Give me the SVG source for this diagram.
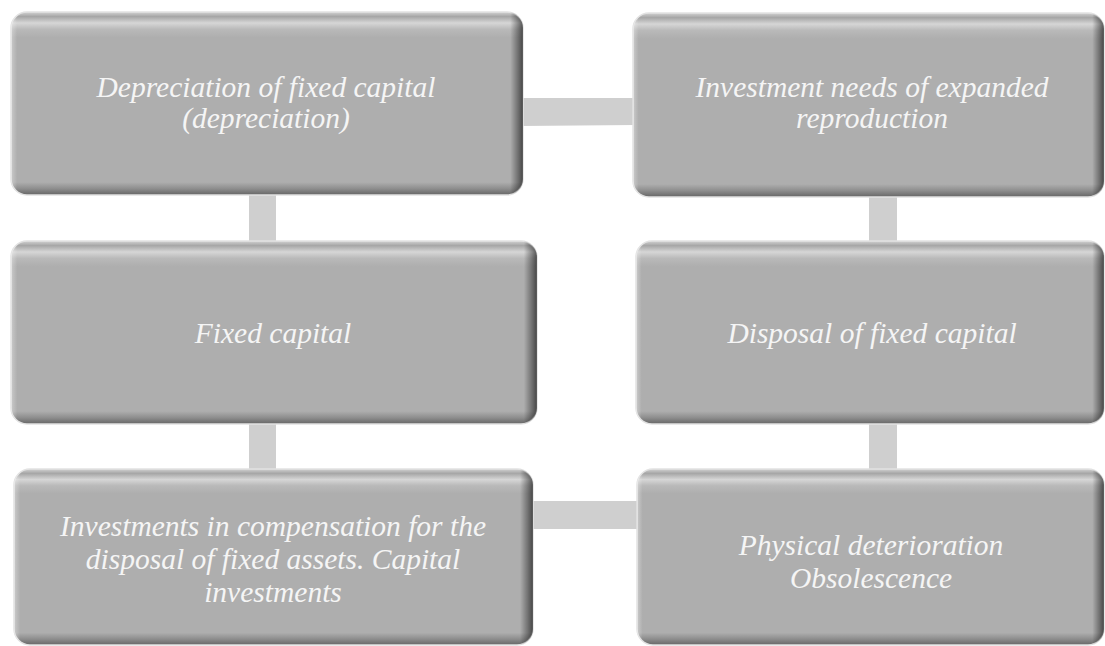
<svg xmlns="http://www.w3.org/2000/svg" width="1105" height="646" viewBox="0 0 1105 646">
  <defs>
    <!-- bevelled grey box: vertical shading (top highlight, dark lower edge) -->
    <linearGradient id="bevelV" x1="0" y1="0" x2="0" y2="1">
      <stop offset="0" stop-color="#d2d2d2"/>
      <stop offset="0.025" stop-color="#a6a6a6"/>
      <stop offset="0.06" stop-color="#d6d6d6"/>
      <stop offset="0.095" stop-color="#b9b9b9"/>
      <stop offset="0.14" stop-color="#aeaeae"/>
      <stop offset="0.93" stop-color="#aeaeae"/>
      <stop offset="0.965" stop-color="#8e8e8e"/>
      <stop offset="1" stop-color="#666666"/>
    </linearGradient>
    <!-- side shading: light left rim, dark right rim -->
    <linearGradient id="bevelH" x1="0" y1="0" x2="1" y2="0">
      <stop offset="0" stop-color="#ffffff" stop-opacity="0.35"/>
      <stop offset="0.012" stop-color="#ffffff" stop-opacity="0"/>
      <stop offset="0.975" stop-color="#000000" stop-opacity="0"/>
      <stop offset="0.99" stop-color="#000000" stop-opacity="0.35"/>
      <stop offset="1" stop-color="#000000" stop-opacity="0.6"/>
    </linearGradient>
  </defs>
  <style>
    .link { fill: #cfcfcf; }
    .box { fill: url(#bevelV); stroke: #e2e2e2; stroke-width: 1.5; }
    .rim { fill: url(#bevelH); }
    .label { font-family: "Liberation Serif", "Times New Roman", serif; font-style: italic; font-size: 29.5px; fill: #f5f5f5; text-anchor: middle; }
  </style>

  <rect width="1105" height="646" fill="#ffffff"/>

  <!-- connectors -->
  <g id="connectors">
    <polygon class="link" points="520,98 636,98 636,125 520,126"/>
    <rect class="link" x="249" y="190" width="27" height="54"/>
    <rect class="link" x="869" y="194" width="28" height="50"/>
    <rect class="link" x="249" y="420" width="27" height="52"/>
    <rect class="link" x="869" y="420" width="28" height="52"/>
    <rect class="link" x="530" y="501" width="110" height="28"/>
  </g>

  <g id="node-depreciation">
    <rect class="box" x="11" y="12" width="512" height="183" rx="16"/>
    <rect class="rim" x="11" y="12" width="512" height="183" rx="16"/>
    <text class="label" x="266" y="97">Depreciation of fixed capital</text>
    <text class="label" x="266" y="128">(depreciation)</text>
  </g>

  <g id="node-expanded-reproduction">
    <rect class="box" x="633" y="13" width="471" height="184" rx="16"/>
    <rect class="rim" x="633" y="13" width="471" height="184" rx="16"/>
    <text class="label" x="872" y="97">Investment needs of expanded</text>
    <text class="label" x="872" y="128">reproduction</text>
  </g>

  <g id="node-fixed-capital">
    <rect class="box" x="11" y="241" width="526" height="183" rx="16"/>
    <rect class="rim" x="11" y="241" width="526" height="183" rx="16"/>
    <text class="label" x="273" y="343">Fixed capital</text>
  </g>

  <g id="node-disposal">
    <rect class="box" x="636" y="241" width="468" height="183" rx="16"/>
    <rect class="rim" x="636" y="241" width="468" height="183" rx="16"/>
    <text class="label" x="872" y="343">Disposal of fixed capital</text>
  </g>

  <g id="node-compensation">
    <rect class="box" x="14" y="469" width="519" height="176" rx="16"/>
    <rect class="rim" x="14" y="469" width="519" height="176" rx="16"/>
    <text class="label" x="273" y="536">Investments in compensation for the</text>
    <text class="label" x="273" y="569">disposal of fixed assets. Capital</text>
    <text class="label" x="273" y="602">investments</text>
  </g>

  <g id="node-deterioration">
    <rect class="box" x="637" y="469" width="467" height="176" rx="16"/>
    <rect class="rim" x="637" y="469" width="467" height="176" rx="16"/>
    <text class="label" x="871" y="555">Physical deterioration</text>
    <text class="label" x="871" y="588">Obsolescence</text>
  </g>
</svg>
